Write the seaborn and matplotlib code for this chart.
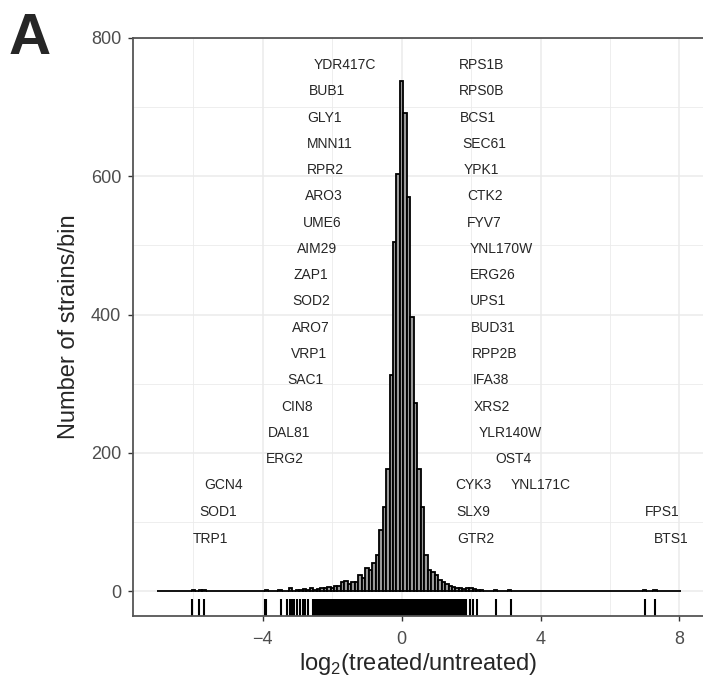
import numpy as np
import pandas as pd
import matplotlib
matplotlib.use("Agg")
import matplotlib.pyplot as plt
from matplotlib.ticker import MultipleLocator
import seaborn as sns

# ---- data ----
# histogram bins (width 0.1): centre and number of strains per bin
bin_centers = [-6.0, -5.8, -5.7, -3.9, -3.5, -3.2, -3.0, -2.9, -2.8, -2.7,
               -2.6, -2.5, -2.4, -2.3, -2.2, -2.1, -2.0, -1.9, -1.8, -1.7,
               -1.6, -1.5, -1.4, -1.3, -1.2, -1.1, -1.0, -0.9, -0.8, -0.7,
               -0.6, -0.5, -0.4, -0.3, -0.2, -0.1, 0.0, 0.1, 0.2, 0.3,
               0.4, 0.5, 0.6, 0.7, 0.8, 0.9, 1.0, 1.1, 1.2, 1.3,
               1.4, 1.5, 1.6, 1.7, 1.8, 1.9, 2.0, 2.1, 2.2, 2.3,
               2.7, 3.1, 7.0, 7.3]
bin_counts = [1, 1, 1, 2, 1, 4, 1, 2, 3, 2,
              4, 2, 3, 4, 4, 6, 5, 7, 7, 13,
              14, 10, 13, 13, 24, 19, 33, 30, 41, 52,
              88, 122, 177, 312, 505, 603, 738, 692, 570, 396,
              272, 176, 122, 52, 30, 28, 23, 16, 13, 10,
              8, 6, 5, 4, 3, 4, 5, 3, 2, 1,
              1, 1, 1, 1]

# isolated rug ticks (individual strains outside the dense core)
rug_outliers = [-6.04, -5.84, -5.69, -3.95, -3.9, -3.49, -3.29, -3.22, -3.17,
                -3.09, -3.03, -2.93, -2.84, -2.79, -2.69, -2.56, -2.5, -2.44,
                -2.4, 1.85, 1.97, 2.04, 2.18, 2.72, 3.14, 7.02, 7.31]

# gene labels: name, x, y
left_genes = ["YDR417C", "BUB1", "GLY1", "MNN11", "RPR2", "ARO3", "UME6",
              "AIM29", "ZAP1", "SOD2", "ARO7", "VRP1", "SAC1", "CIN8",
              "DAL81", "ERG2", "GCN4", "SOD1", "TRP1"]
left_x = [-1.63, -2.15, -2.21, -2.07, -2.21, -2.24, -2.30, -2.44, -2.61,
          -2.61, -2.61, -2.67, -2.76, -3.02, -3.25, -3.36, -5.12, -5.29, -5.52]
right_genes = ["RPS1B", "RPS0B", "BCS1", "SEC61", "YPK1", "CTK2", "FYV7",
               "YNL170W", "ERG26", "UPS1", "BUD31", "RPP2B", "IFA38", "XRS2",
               "YLR140W", "OST4", "CYK3", "SLX9", "GTR2"]
right_x = [2.31, 2.31, 2.21, 2.39, 2.29, 2.39, 2.39, 2.86, 2.62, 2.50, 2.63,
           2.67, 2.57, 2.60, 3.12, 3.22, 2.07, 2.05, 2.13]
row_y = [761, 723, 685, 647, 609, 571, 533, 495, 457, 419, 381, 343, 305,
         267, 229, 191, 153, 114, 76]
extra_genes = ["YNL171C", "FPS1", "BTS1"]
extra_x = [4.01, 7.50, 7.76]
extra_y = [153, 114, 76]

hist_df = pd.DataFrame({"lfc": bin_centers, "n": bin_counts})
edges = [round(e, 2) for e in np.arange(-7.05, 8.06, 0.1)]

# ---- style ----
sns.set_style("white")
plt.rcParams["font.family"] = ["Liberation Sans", "DejaVu Sans"]

fig = plt.figure(figsize=(7.03, 6.76), dpi=100)
ax = fig.add_axes([133 / 703, 60 / 676, 570 / 703, 578 / 676])

sns.histplot(x=hist_df["lfc"], weights=hist_df["n"], bins=edges, ax=ax,
             color="#9a9a9a", edgecolor="black", linewidth=1.3, alpha=1)

core = hist_df[(hist_df.lfc >= -2.35) & (hist_df.lfc <= 1.8)]
sns.rugplot(x=core["lfc"], height=0.03, color="black", linewidth=4,
            antialiased=False, ax=ax)
sns.rugplot(x=rug_outliers, height=0.03, color="black", linewidth=1.5, ax=ax)

for g, x, y in zip(left_genes, left_x, row_y):
    ax.text(x, y, g, ha="center", va="center", fontsize=10)
for g, x, y in zip(right_genes, right_x, row_y):
    ax.text(x, y, g, ha="center", va="center", fontsize=10)
for g, x, y in zip(extra_genes, extra_x, extra_y):
    ax.text(x, y, g, ha="center", va="center", fontsize=10)

ax.set_xlim(-7.74, 8.68)
ax.set_ylim(-36, 800)
ax.xaxis.set_major_locator(MultipleLocator(4))
ax.xaxis.set_minor_locator(MultipleLocator(2))
ax.yaxis.set_major_locator(MultipleLocator(200))
ax.yaxis.set_minor_locator(MultipleLocator(100))
ax.grid(which="major", color="#ebebeb", linewidth=1.1)
ax.grid(which="minor", color="#ebebeb", linewidth=0.6)
ax.set_axisbelow(True)

for side in ["left", "top", "bottom"]:
    ax.spines[side].set_color("#555555")
    ax.spines[side].set_linewidth(1.3)
ax.spines["right"].set_visible(False)

ax.tick_params(which="major", direction="out", length=3.5, width=1,
               color="#333333", labelcolor="#4d4d4d", labelsize=13)
ax.tick_params(axis="x", which="major", pad=7.5, bottom=True)
ax.tick_params(axis="y", which="major", pad=5, left=True)
ax.tick_params(which="minor", length=0)

ax.set_xlabel(r"log$_{\mathregular{2}}$(treated/untreated)", fontsize=17)
ax.set_ylabel("Number of strains/bin", fontsize=17)
ax.xaxis.set_label_coords(0.5, -0.061)
ax.yaxis.set_label_coords(-0.093, 0.5)

fig.text(9 / 703, 1 - 54 / 676, "A", fontsize=42, fontweight="bold",
         ha="left", va="baseline")

fig.savefig("out.png", dpi=100)
